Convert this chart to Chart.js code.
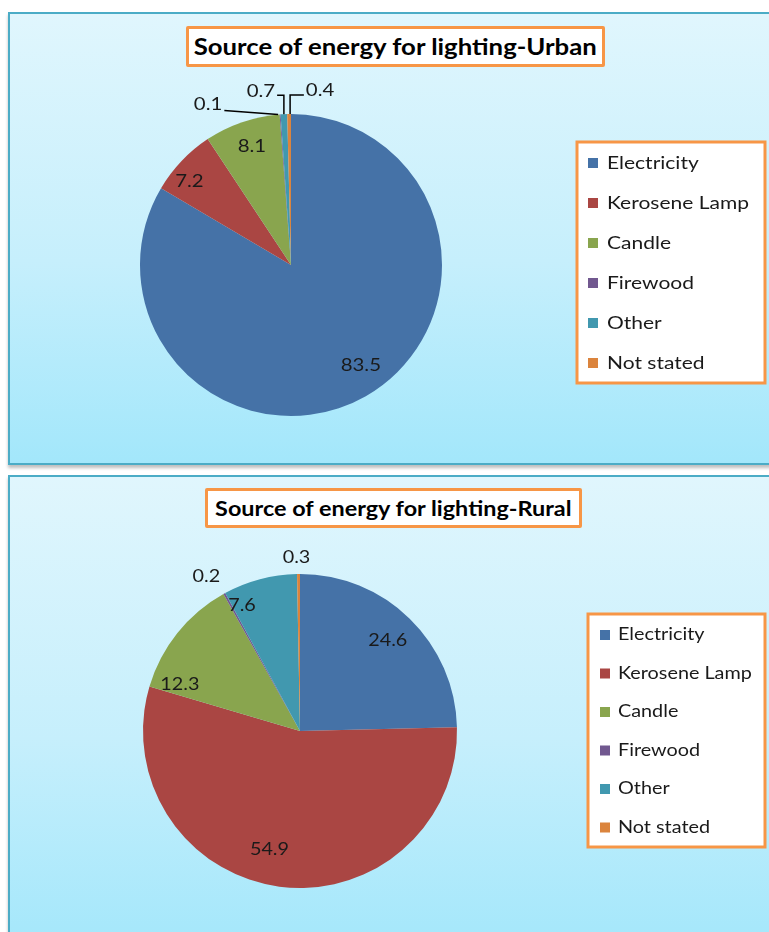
<!DOCTYPE html>
<html>
<head>
<meta charset="utf-8">
<script src="https://cdn.jsdelivr.net/npm/chart.js@4.4.0/dist/chart.umd.min.js"></script>
<style>
  body{margin:0;width:769px;height:932px;overflow:hidden;background:#fff;font-family:Lato,"Open Sans",sans-serif;position:relative}
  .panel{position:absolute;left:8px;width:800px;border:2px solid #4bacc6;box-sizing:border-box;
    background:linear-gradient(to bottom,#e0f6fd 0%,#c6effc 55%,#a3e7fb 100%);box-shadow:0 3px 3px rgba(0,0,0,0.25)}
  .ttl{position:absolute;background:#fff;border:3px solid #f79646;border-radius:2px;box-sizing:border-box;
    font-weight:bold;font-size:22px;color:#000;text-align:center;white-space:nowrap}
  .ttl span{display:inline-block;transform:scaleX(1.17)}
  canvas{position:absolute;left:0}
</style>
</head>
<body>
<div class="panel" style="top:12px;height:453px"></div>
<div class="panel" style="top:475px;height:480px"></div>
<div class="ttl" style="left:186px;top:26px;width:419px;height:41px;line-height:35px"><span>Source of energy for lighting-Urban</span></div>
<div class="ttl" style="left:205px;top:488px;width:377px;height:40px;line-height:34px;font-size:20px"><span>Source of energy for lighting-Rural</span></div>
<div style="position:absolute;left:0;top:0;width:769px;height:470px"><canvas id="urban"></canvas></div>
<div style="position:absolute;left:0;top:470px;width:769px;height:462px"><canvas id="rural"></canvas></div>
<script>
// data
const sources=['Electricity','Kerosene Lamp','Candle','Firewood','Other','Not stated'];
const urbanVals=[83.5,7.2,8.1,0.1,0.7,0.4];
const ruralVals=[24.6,54.9,12.3,0.2,7.6,0.3];
const colors=['#4572A7','#AA4643','#89A54E','#71588F','#4198AF','#DB843D'];

const FONT='Lato, "Open Sans", sans-serif';
const SX=1.2; // text in the original is drawn wide

function wideText(ctx,txt,x,y){
  ctx.save();
  ctx.translate(x,y);
  ctx.scale(SX,1);
  ctx.fillText(txt,0,0);
  ctx.restore();
}

// value labels, small slices get a callout outside the pie
const valueLabels={
  id:'valueLabels',
  afterDatasetsDraw(chart,args,opts){
    const ctx=chart.ctx;
    const ds=chart.data.datasets[0];
    const arcs=chart.getDatasetMeta(0).data;
    ctx.save();
    ctx.font=opts.size+'px '+FONT;
    ctx.fillStyle='#1a1a1a';
    ctx.textAlign='center';
    ctx.textBaseline='middle';
    ctx.strokeStyle='#000';
    ctx.lineWidth=1.5;
    arcs.forEach((arc,i)=>{
      const p=arc.getProps(['x','y','startAngle','endAngle','outerRadius']);
      const mid=(p.startAngle+p.endAngle)/2;
      const txt=ds.data[i].toFixed(1);
      const co=opts.callouts[i];
      if(co){
        const ox=p.x+Math.cos(mid)*p.outerRadius, oy=p.y+Math.sin(mid)*p.outerRadius;
        const lx=ox+co.dx, ly=oy+co.dy;
        wideText(ctx,txt,lx,ly);
        const w=ctx.measureText(txt).width*SX;
        ctx.beginPath();
        if(co.line=='straight'){
          ctx.moveTo(lx+w/2+2,ly+6);ctx.lineTo(ox-2,oy);
        }else if(co.line=='elbow'){
          const sx=co.dx<0?lx+w/2+2:lx-w/2-2;
          ctx.moveTo(sx,ly+4);ctx.lineTo(ox+co.ex,ly+4);ctx.lineTo(ox+co.ex,oy);
        }
        if(co.line)ctx.stroke();
      }else{
        const r=p.outerRadius*(opts.radius||0.8);
        const n=(opts.nudge&&opts.nudge[i])||[0,0];
        wideText(ctx,txt,p.x+Math.cos(mid)*r+n[0],p.y+Math.sin(mid)*r+n[1]);
      }
    });
    ctx.restore();
  }
};

// boxed legend on the right
const boxLegend={
  id:'boxLegend',
  afterDraw(chart,args,opts){
    const ctx=chart.ctx;
    const b=opts.box;
    ctx.save();
    ctx.fillStyle='#fff';
    ctx.fillRect(b.x,b.y,b.w,b.h);
    ctx.strokeStyle='#f79646';
    ctx.lineWidth=3;
    ctx.strokeRect(b.x,b.y,b.w,b.h);
    ctx.font=opts.size+'px '+FONT;
    ctx.textBaseline='middle';
    chart.data.labels.forEach((lab,i)=>{
      const y=opts.first+i*opts.gap;
      ctx.fillStyle=chart.data.datasets[0].backgroundColor[i];
      ctx.fillRect(opts.mx,y-5,10,10);
      ctx.fillStyle='#1a1a1a';
      wideText(ctx,lab,opts.tx,y);
    });
    ctx.restore();
  }
};

function makePie(id,vals,pad,legendOpts,labelOpts){
  return new Chart(document.getElementById(id),{
    type:'pie',
    data:{labels:sources,datasets:[{data:vals,backgroundColor:colors,borderWidth:0}]},
    options:{
      responsive:true,
      maintainAspectRatio:false,
      animation:false,
      layout:{padding:pad},
      plugins:{
        legend:{display:false},
        tooltip:{enabled:false},
        valueLabels:labelOpts,
        boxLegend:legendOpts
      },
      events:[]
    },
    plugins:[valueLabels,boxLegend]
  });
}

makePie('urban',urbanVals,
  {left:140,right:327,top:114,bottom:54},
  {box:{x:577,y:142,w:188,h:241},first:163,gap:40,mx:588,tx:607,size:17.5},
  {size:17,radius:0.8,nudge:{0:[10,-4],1:[-14,0],2:[0,-4]},
   callouts:{3:{dx:-72,dy:-10,line:'straight'},4:{dx:-23,dy:-23,line:'elbow',ex:0},5:{dx:31,dy:-23,line:'elbow',ex:1}}});

makePie('rural',ruralVals,
  {left:143,right:312,top:104,bottom:44},
  {box:{x:588,y:144,w:177,h:233},first:165,gap:38.5,mx:600,tx:618,size:16.5},
  {size:16.5,radius:0.8,nudge:{1:[-14,-6],2:[-22,32],4:[-26,-4]},
   callouts:{3:{dx:-18,dy:-17},5:{dx:-2,dy:-16}}});
</script>
</body>
</html>
